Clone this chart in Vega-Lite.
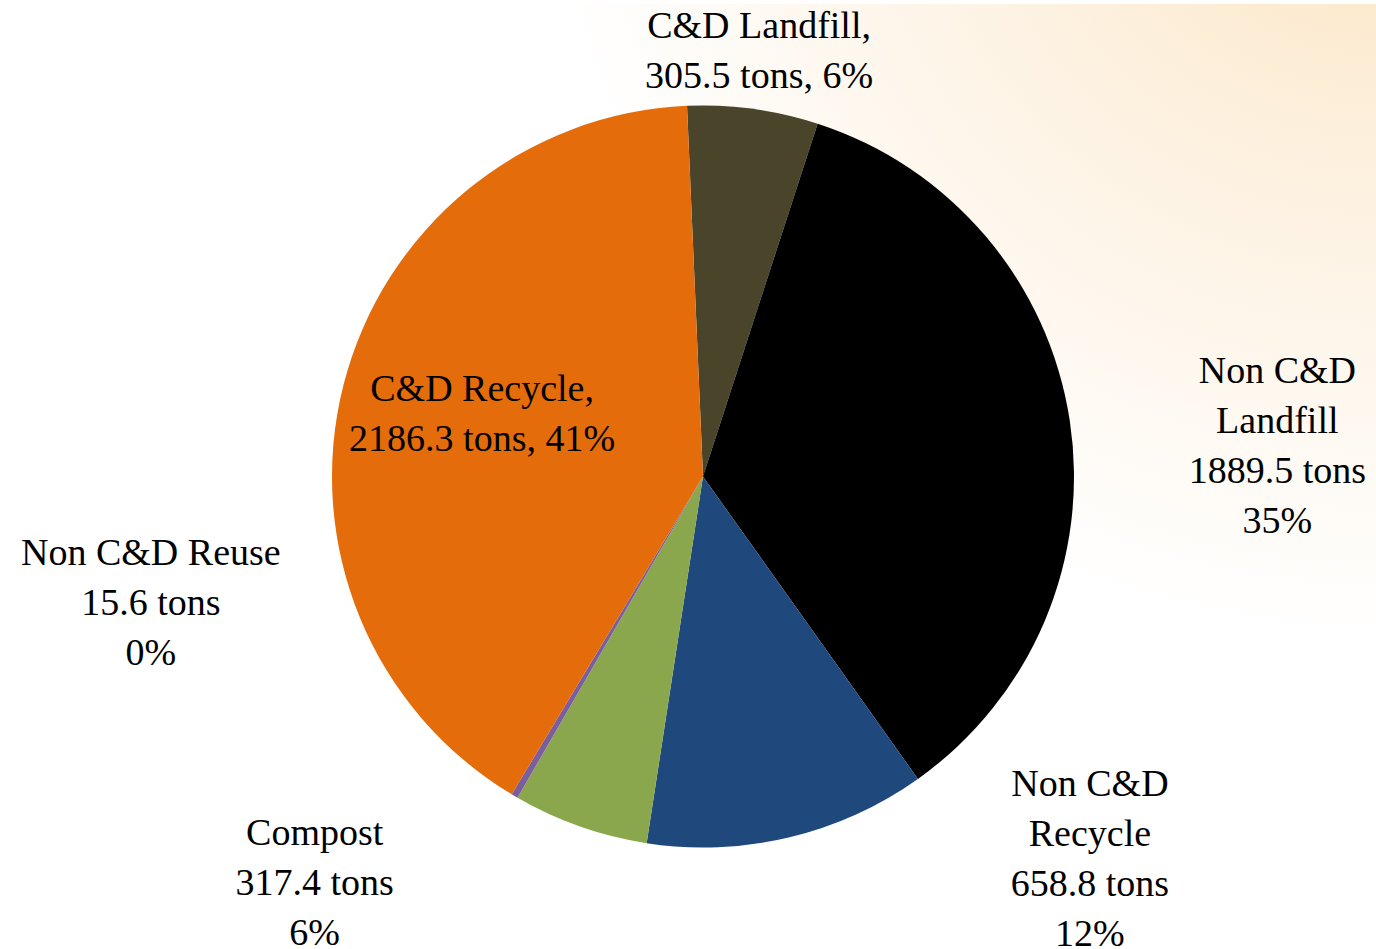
{
  "$schema": "https://vega.github.io/schema/vega-lite/v6.json",
  "width": 1346,
  "height": 945,
  "autosize": "none",
  "padding": {"left": 30, "top": 4, "right": 0, "bottom": 0},
  "background": "#FFFFFF",
  "config": {
    "view": {"stroke": null},
    "text": {"font": "Liberation Serif", "fontSize": 38, "lineHeight": 50, "fill": "#000000", "align": "center", "baseline": "middle"}
  },
  "layer": [
    {
      "data": {"values": [{}]},
      "mark": {
        "type": "rect",
        "fill": {
          "gradient": "radial",
          "x1": 1, "y1": 0, "r1": 0,
          "x2": 1, "y2": 0, "r2": 0.62,
          "stops": [
            {"offset": 0, "color": "#FBE3BC"},
            {"offset": 0.45, "color": "#FDF1E0"},
            {"offset": 1, "color": "#FFFFFF"}
          ]
        }
      }
    },
    {
      "data": {
        "values": [
          {"idx": 1, "cat": "C&D Landfill", "value": 305.5, "label": ["C&D Landfill,", "305.5 tons, 6%"]},
          {"idx": 2, "cat": "Non C&D Landfill", "value": 1889.5, "label": ["Non C&D", "Landfill", "1889.5 tons", "35%"]},
          {"idx": 3, "cat": "Non C&D Recycle", "value": 658.8, "label": ["Non C&D", "Recycle", "658.8 tons", "12%"]},
          {"idx": 4, "cat": "Compost", "value": 317.4, "label": ["Compost", "317.4 tons", "6%"]},
          {"idx": 5, "cat": "Non C&D Reuse", "value": 15.6, "label": ["Non C&D Reuse", "15.6 tons", "0%"]},
          {"idx": 6, "cat": "C&D Recycle", "value": 2186.3, "label": ["C&D Recycle,", "2186.3 tons, 41%"]}
        ]
      },
      "encoding": {
        "theta": {"field": "value", "type": "quantitative", "stack": true, "scale": {"range": [-0.0431, 6.2401]}},
        "order": {"field": "idx", "type": "quantitative"}
      },
      "layer": [
        {
          "mark": {"type": "arc", "outerRadius": 371, "stroke": null},
          "encoding": {
            "color": {
              "field": "cat", "type": "nominal", "legend": null,
              "scale": {
                "domain": ["C&D Landfill", "Non C&D Landfill", "Non C&D Recycle", "Compost", "Non C&D Reuse", "C&D Recycle"],
                "range": ["#4A452A", "#000000", "#1F497D", "#8BA74E", "#7B5E9E", "#E46C0A"]
              }
            }
          }
        },
        {
          "mark": {"type": "text", "radius": 430, "dx": -2, "dy": -23},
          "encoding": {"text": {"condition": {"test": "datum.cat === 'C&D Landfill'", "field": "label"}, "value": ""}}
        },
        {
          "mark": {"type": "text", "radius": 580, "dx": 1, "dy": -17},
          "encoding": {"text": {"condition": {"test": "datum.cat === 'Non C&D Landfill'", "field": "label"}, "value": ""}}
        },
        {
          "mark": {"type": "text", "radius": 390, "dx": 297, "dy": -71},
          "encoding": {"text": {"condition": {"test": "datum.cat === 'Non C&D Recycle'", "field": "label"}, "value": ""}}
        },
        {
          "mark": {"type": "text", "radius": 420, "dx": -249, "dy": -39},
          "encoding": {"text": {"condition": {"test": "datum.cat === 'Compost'", "field": "label"}, "value": ""}}
        },
        {
          "mark": {"type": "text", "radius": 400, "dx": -349, "dy": -267},
          "encoding": {"text": {"condition": {"test": "datum.cat === 'Non C&D Reuse'", "field": "label"}, "value": ""}}
        },
        {
          "mark": {"type": "text", "radius": 230, "dx": 2, "dy": -30},
          "encoding": {"text": {"condition": {"test": "datum.cat === 'C&D Recycle'", "field": "label"}, "value": ""}}
        }
      ]
    }
  ]
}
